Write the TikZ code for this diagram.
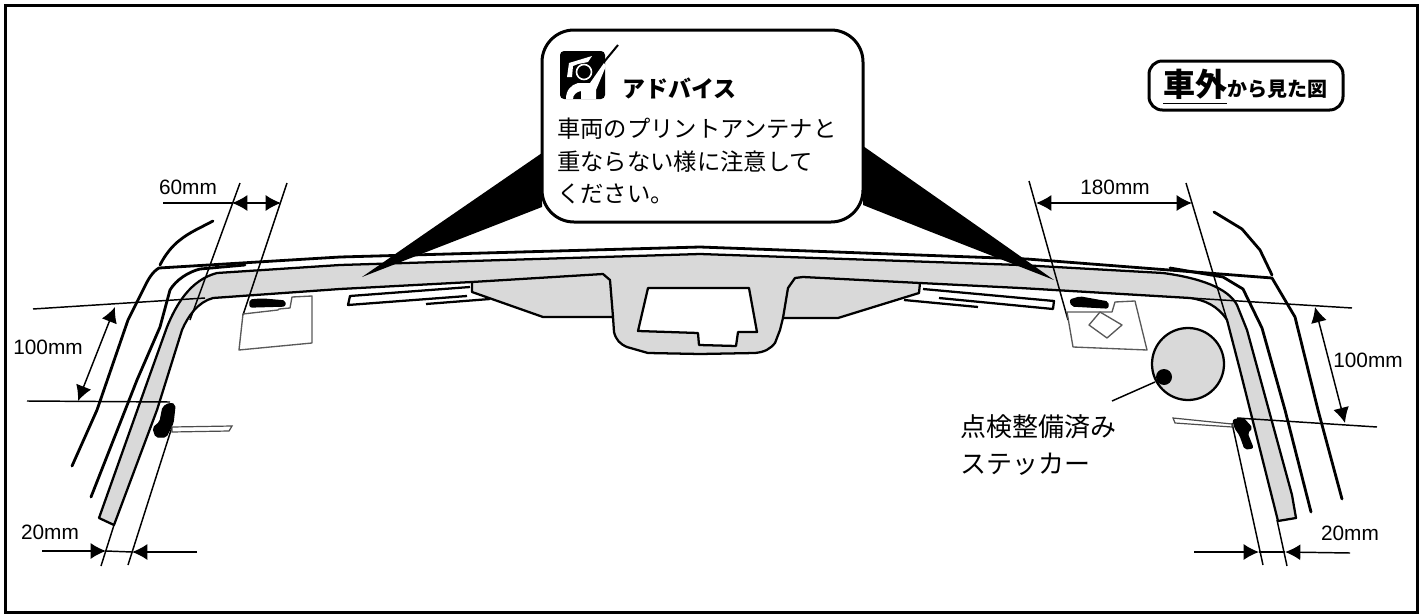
\documentclass[tikz,border=0pt]{standalone}
\usepackage{amsmath}
\usepackage{fontspec}
\setmainfont{Liberation Sans}
\newfontfamily\cjk{Noto Sans CJK JP}
\usetikzlibrary{calc}
\usetikzlibrary{arrows.meta}
\tikzset{>={Latex[length=11.5pt,width=12pt]}}
\tikzset{
  heavy/.style={line width=2.1pt,line join=round,line cap=round},
  edge/.style={line width=1.7pt,line join=round},
  thin line/.style={line width=1.1pt},
  tag/.style={line width=1pt,draw=black!65,line join=round},
  blob/.style={fill=black,draw=black,line width=1pt,line join=round,rounded corners=1.5pt},
  mm/.style={inner sep=0pt,font=\fontsize{15.6pt}{18pt}\selectfont},
  jp/.style={inner sep=0pt,font=\cjk\fontsize{17.5pt}{24.4pt}\selectfont}
}
\definecolor{band}{gray}{0.85}
\begin{document}
\begin{tikzpicture}[x=0.75pt,y=-0.75pt]
      \useasboundingbox (0,0) rectangle (1425,614);
      \draw [line width=2.25pt] (5.5,5.5) rectangle (1417.5,612.8);

      \draw [edge,fill=band] (99,518) -- (148,380) -- (167,327)
      .. controls (176,305) and (190,280) .. (217,273)
      -- (340,265) -- (700,254) -- (1020,265) -- (1163,273)
      .. controls (1200,278) and (1228,288) .. (1237,305)
      -- (1247,330) -- (1292,495) -- (1296,518) -- (1278,521)
      -- (1240,370) -- (1227,320)
      .. controls (1218,306) and (1205,300) .. (1190,298)
      -- (1020,288) -- (920,283) -- (919,293) -- (838,318) -- (783,318)
      -- (780,330) -- (775,343) .. controls (770,349) and (765,352) .. (755,353)
      -- (700,354) -- (648,353) -- (627,347) .. controls (620,344) and (616,340) .. (614,332)
      -- (613,317) -- (543,317) -- (472,292) -- (472,282) -- (340,289) -- (213,298)
      .. controls (198,302) and (188,316) .. (182,330)
      -- (157,410) -- (114,525) -- cycle;

      \draw [edge] (472,282) -- (603,274) -- (610,280) -- (613,317);
      \draw [edge] (783,318) -- (788,288) -- (795,278) -- (803,277) -- (920,283);
      \draw [edge,fill=white] (648,288) -- (749,288) -- (757,332) -- (738,332)
      -- (736,346) -- (699,345) -- (698,333) -- (638,331) -- cycle;

      \draw [edge] (470,287) -- (350,296) -- (348,305) -- (467,296);
      \draw [edge] (426,304) -- (490,299);
      \draw [edge] (923,289) -- (1054,301) -- (1053,309) -- (939,298);
      \draw [edge] (904,300) -- (978,307);

      \draw [heavy] (340,257) -- (159,268) .. controls (152,272) and (148,280) .. (145,286)
      -- (128,320) -- (97,410) -- (72,466);
      \draw [heavy] (340,257) -- (700,247) -- (1027,259) -- (1272,278)
      -- (1295,317) -- (1318,410) -- (1342,499);
      \draw [heavy] (160,265) .. controls (165,255) and (172,246) .. (180,240)
      .. controls (190,232) and (200,228) .. (213,221);
      \draw [heavy] (1214,212) -- (1242,229) -- (1260,250) -- (1272,275);
      \draw [heavy] (91,497) -- (137,380) -- (160,327) -- (170,290)
      .. controls (176,280) and (188,272) .. (200,269) -- (245,265);
      \draw [heavy] (1170,268) -- (1223,277) -- (1243,289) -- (1262,328)
      -- (1285,410) -- (1311,512);

      \coordinate (r0) at (33,309);
      \coordinate (r1) at (205,298);
      \coordinate (r2) at (1190,298);
      \coordinate (r3) at (1352,308);
      \coordinate (s0) at (27,401);
      \coordinate (s1) at (170,402);
      \coordinate (s2) at (1237,418);
      \coordinate (s3) at (1377,427);
      \draw [thin line] (r0) -- (r1);
      \draw [thin line] (r2) -- (r3);
      \draw [thin line] (s0) -- (s1);
      \draw [thin line] (s2) -- (s3);

      \draw [thin line] (240,183) -- (190,320);
      \draw [thin line] (287,183) -- (243,315);
      \draw [thin line] (1029,181) -- (1068,320);
      \draw [thin line] (1186,183) -- (1227,320);
      \draw [thin line] (101,566) -- (114,525);
      \draw [thin line] (128,565) -- (172,427);
      \draw [thin line] (1263,565) -- (1232,423);
      \draw [thin line] (1287,566) -- (1277,520);

      \draw [thin line,<->] (115,307) -- (78,401);
      \draw [thin line,<->] (1315,307) -- (1345,423);
      \draw [thin line,<->] (232,203) -- (281,203);
      \draw [thin line] (163,203) -- (232,203);
      \draw [thin line,<->] (1036,203) -- (1192,203);
      \draw [thin line,->] (42,551) -- (106,551);
      \draw [thin line,->] (197,552) -- (132,552);
      \draw [thin line] (106,551) -- (132,552);
      \draw [thin line,->] (1194,552) -- (1259,552);
      \draw [thin line,->] (1350,553) -- (1285,552);
      \draw [thin line] (1259,552) -- (1285,552);

      \draw [blob] (170,403) -- (175,405) -- (173,423) -- (166,437) -- (156,437)
      -- (153,428) -- (160,422) -- (163,407) -- cycle;
      \draw [line width=0.9pt,draw=black!70,fill=white] (172,427) -- (232,426) -- (229,431) -- (172,432) -- cycle;
      \draw [blob] (1233,420) -- (1243,418) -- (1252,428) -- (1247,433) -- (1253,448)
      -- (1245,449) -- (1240,435) -- (1235,428) -- cycle;
      \draw [line width=0.9pt,draw=black!70,fill=white] (1173,418) -- (1232,424) -- (1232,427) -- (1175,423) -- cycle;

      \draw [tag] (243,314) -- (278,310) -- (279,309) -- (290,308) -- (292,297)
      -- (312,296) -- (312,343) -- (239,350) -- cycle;
      \draw [blob] (250,300) -- (262,299) -- (285,301) -- (285,306) -- (250,307) -- cycle;
      \draw [tag] (1067,312) -- (1112,312) -- (1115,302) -- (1135,301) -- (1147,350)
      -- (1073,347) -- cycle;
      \draw [tag] (1100,312) -- (1122,325) -- (1107,338) -- (1089,325) -- cycle;
      \draw [blob] (1070,300) -- (1080,297) -- (1108,302) -- (1108,308) -- (1072,306) -- cycle;

      \draw [edge,fill=band] (1188,364) circle (36);
      \fill (1164,377) circle (8);
      \draw [thin line] (1155,382) -- (1112,401);

      \fill (362,277) -- (430,230) -- (542,153) -- (542,207) -- (483,230) -- cycle;
      \fill (1054,280) -- (983,230) -- (863,146) -- (863,205) -- (926,230) -- cycle;
      \draw [line width=2.25pt,fill=white,rounded corners=24] (542,30) rectangle (863,222);

      \fill [rounded corners=3] (560,51) rectangle (605,99);
      \draw [line width=1.5pt] (604,62) -- (618,45);
      \fill [white] (569,63) -- (592,56) -- (588,62) -- (578,64) -- (573,66) -- (572,77) -- (567,77) -- cycle;
      \draw [white,line width=1.2pt] (584,72) circle (7.5);
      \fill [white] (566,99) .. controls (566,90) and (571,85) .. (578,83)
      -- (590,83) -- (604,63) -- (606,66) -- (596,90) -- (596,99) -- (581,99)
      -- (581,91) .. controls (576,92) and (573,95) .. (573,99) -- cycle;

      \node [jp,anchor=west,font=\cjk\bfseries\fontsize{17.2pt}{20pt}\selectfont] (advice) at (622,88) {アドバイス};
      \node [jp,anchor=north west,align=left] (note) at (557,118)
      {車両のプリントアンテナと\\重ならない様に注意して\\ください。};

      \draw [line width=2.25pt,rounded corners=10,fill=white] (1149,61) rectangle (1343,110);
      \node [inner sep=0pt,anchor=base west] (view) at (1163,96)
      {\cjk\bfseries\fontsize{24pt}{26pt}\selectfont\underline{車外}\fontsize{15pt}{26pt}\selectfont から見た図};

      \node [mm] (d60) at (188,187) {60mm};
      \node [mm] (d180) at (1115,187) {180mm};
      \node [mm] (d100l) at (48,347) {100mm};
      \node [mm] (d100r) at (1368,360) {100mm};
      \node [mm] (d20l) at (50,532) {20mm};
      \node [mm] (d20r) at (1350,533) {20mm};

      \node [jp,anchor=north west,align=left,font=\cjk\fontsize{19.5pt}{27.75pt}\selectfont] (sticker) at (960,414)
      {点検整備済み\\ステッカー};
\end{tikzpicture}
\end{document}
